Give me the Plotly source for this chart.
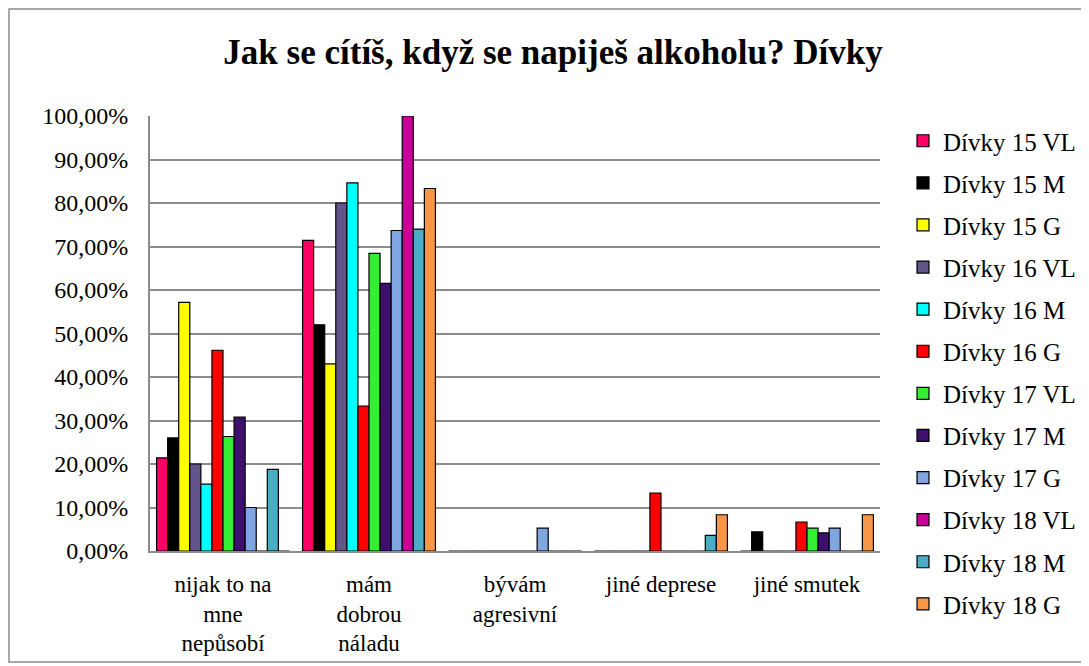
import plotly.graph_objects as go

categories = ["nijak to na<br>mne<br>nepůsobí", "mám<br>dobrou<br>náladu", "bývám<br>agresivní", "jiné deprese", "jiné smutek"]

series_names = ["Dívky 15 VL", "Dívky 15 M", "Dívky 15 G", "Dívky 16 VL", "Dívky 16 M", "Dívky 16 G",
                "Dívky 17 VL", "Dívky 17 M", "Dívky 17 G", "Dívky 18 VL", "Dívky 18 M", "Dívky 18 G"]

d15_vl = [0.2143, 0.7143, 0.0, 0.0, 0.0]
d15_m = [0.26, 0.52, 0.0, 0.0, 0.044]
d15_g = [0.5714, 0.43, 0.0, 0.0, 0.0]
d16_vl = [0.20, 0.80, 0.0, 0.0, 0.0]
d16_m = [0.1538, 0.8462, 0.0, 0.0, 0.0]
d16_g = [0.4615, 0.3333, 0.0, 0.1333, 0.0667]
d17_vl = [0.2632, 0.6842, 0.0, 0.0, 0.0526]
d17_m = [0.3077, 0.6154, 0.0, 0.0, 0.0417]
d17_g = [0.10, 0.7368, 0.0526, 0.0, 0.0526]
d18_vl = [0.0, 1.0, 0.0, 0.0, 0.0]
d18_m = [0.1875, 0.74, 0.0, 0.0357, 0.0]
d18_g = [0.0, 0.8333, 0.0, 0.0833, 0.0833]

values = [d15_vl, d15_m, d15_g, d16_vl, d16_m, d16_g, d17_vl, d17_m, d17_g, d18_vl, d18_m, d18_g]

colors = ["#FF0066", "#000000", "#FFFF00", "#64548C", "#00FFFF", "#FF0000",
          "#33EE33", "#3F0F70", "#7FA6E0", "#CC0099", "#4BACC6", "#F79646"]

y_ticks = [i / 10 for i in range(11)]

fig = go.Figure()
for i, (name, vals, col) in enumerate(zip(series_names, values, colors)):
    fig.add_trace(go.Bar(
        x=categories, y=vals, name=name, legendgroup=f"g{i}",
        marker=dict(color=col, line=dict(color="#000000", width=1.2)),
    ))

serif = "Liberation Serif, Times New Roman, serif"

OFF = 8  # page body margin
W, H = 1089, 666
L, R, T, B = 150 - OFF, 880 - OFF, 116 - OFF, 551 - OFF
pw, ph = R - L, B - T

def px(x):
    return (x - OFF - L) / pw

def py(y):
    return (B - (y - OFF)) / ph

fig.update_layout(
    width=W, height=H,
    margin=dict(l=L, r=W - R, t=T, b=H - B, autoexpand=False),
    paper_bgcolor="white", plot_bgcolor="white",
    separators=", ",
    barmode="group", bargap=0.09, bargroupgap=0.0,
    title=dict(text="<b>Jak se cítíš, když se napiješ alkoholu? Dívky</b>",
               x=(553 - OFF) / W, xanchor="center", y=1 - 44 / H, yanchor="middle",
               font=dict(family=serif, size=35, color="#000000")),
    font=dict(family=serif, size=23, color="#000000"),
    legend=dict(x=px(903), y=py(118), xanchor="left", yanchor="top",
                font=dict(family=serif, size=25, color="#000000"),
                tracegroupgap=6.6, itemwidth=30, bgcolor="rgba(0,0,0,0)", maxheight=640),
    yaxis=dict(range=[0, 1.0], tickvals=y_ticks, tickformat=".2%",
               showgrid=True, gridcolor="#8C8C8C", gridwidth=2,
               showline=True, linecolor="#8C8C8C", linewidth=2,
               ticks="outside", ticklen=15, tickcolor="rgba(0,0,0,0)",
               tickfont=dict(family=serif, size=24), zeroline=False),
    xaxis=dict(showgrid=False, showline=True, linecolor="#8C8C8C", linewidth=2,
               ticks="outside", ticklen=11, tickcolor="rgba(0,0,0,0)",
               tickfont=dict(family=serif, size=23), tickangle=0),
    shapes=[dict(type="rect", xref="paper", yref="paper",
                 x0=px(9), x1=px(1085), y0=py(662), y1=py(9),
                 line=dict(color="#8C8C8C", width=1.5), fillcolor="rgba(0,0,0,0)",
                 layer="below")],
)

fig.write_html("out.html")
